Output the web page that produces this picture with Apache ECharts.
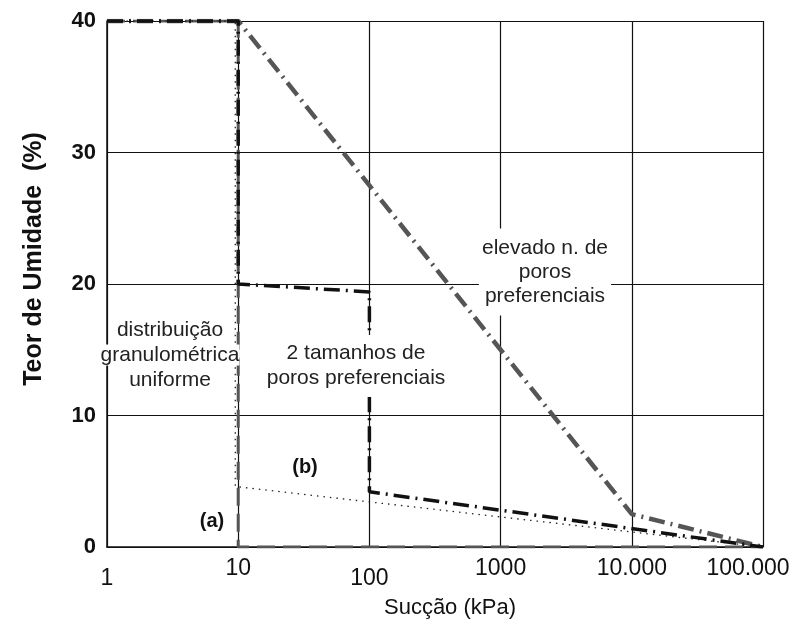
<!DOCTYPE html>
<html>
<head>
<meta charset="utf-8">
<script src="https://cdn.jsdelivr.net/npm/echarts@6/dist/echarts.min.js"></script>
<style>html,body{margin:0;padding:0;background:#fff}#c{width:804px;height:625px}</style>
</head>
<body>
<div id="c"></div>
<script>
// Data (suction kPa, moisture %)
const xTicks = [1, 10, 100, 1000, 10000, 100000];
const xTickLabels = ['1', '10', '100', '1000', '10.000', '100.000'];
const yTicks = [0, 10, 20, 30, 40];
const curveUniform = [[1, 40], [10, 40], [10, 0], [100000, 0]];
const curveTwoSizes = [[1, 40], [10, 40], [10, 20], [100, 19.4], [100, 4.2], [100000, 0]];
const curveElevated = [[1, 40], [10, 40], [10000, 2.5], [100000, 0]];
const curveDotted = [[1, 40], [9.5, 40], [9.5, 4.6], [100000, 0]];

const chart = echarts.init(document.getElementById('c'));
const F = 'Liberation Sans, Arial, sans-serif';
chart.setOption({
  animation: false,
  grid: { left: 107, right: 41, top: 21, bottom: 78, containLabel: false, outerBoundsMode: 'none' },
  xAxis: {
    type: 'log', logBase: 10, min: 1, max: 100000,
    name: 'Sucção (kPa)', nameLocation: 'middle', nameGap: 50,
    nameTextStyle: { fontFamily: F, fontSize: 22, color: '#111', padding: [0, 0, 0, 30] },
    axisLine: { show: true, lineStyle: { color: '#111', width: 1.5 } },
    axisTick: { show: false },
    minorTick: { show: false },
    splitLine: { show: true, lineStyle: { color: '#111', width: 1.2 } },
    axisLabel: {
      fontFamily: F, fontSize: 23, color: '#111', margin: 10, hideOverlap: false,
      formatter: function (v) {
        const i = xTicks.indexOf(Math.round(v));
        if (i < 0) return '';
        if (i === 0 || i === 2) return '{lo|' + xTickLabels[i] + '}';
        if (i === 5) return '{last|' + xTickLabels[i] + '}';
        return '{hi|' + xTickLabels[i] + '}';
      },
      rich: {
        lo: { fontFamily: F, fontSize: 23, color: '#111', padding: [10, 0, 0, 0] },
        hi: { fontFamily: F, fontSize: 23, color: '#111' },
        last: { fontFamily: F, fontSize: 23, color: '#111', padding: [0, 30, 0, 0] }
      }
    }
  },
  yAxis: {
    type: 'value', min: 0, max: 40, interval: 10,
    name: 'Teor de Umidade  (%)', nameLocation: 'middle', nameGap: 60, nameRotate: 90,
    nameTextStyle: { fontFamily: F, fontSize: 25, fontWeight: 'bold', color: '#111', padding: [0, 0, 0, 50] },
    axisLine: { show: true, lineStyle: { color: '#111', width: 1.5 } },
    axisTick: { show: false },
    splitLine: { show: true, lineStyle: { color: '#111', width: 1.2 } },
    axisLabel: {
      fontFamily: F, fontSize: 22, fontWeight: 'bold', color: '#111', margin: 11,
      formatter: function (v) { return yTicks.indexOf(v) >= 0 ? String(v) : ''; }
    }
  },
  series: [
    { type: 'line', data: curveUniform, symbol: 'none', z: 3,
      lineStyle: { color: '#555', width: 3, type: [18, 8] } },
    { type: 'line', data: curveDotted, symbol: 'none', z: 4,
      lineStyle: { color: '#222', width: 1.3, type: [1.5, 5] } },
    { type: 'line', data: curveElevated, symbol: 'none', z: 5,
      lineStyle: { color: '#555', width: 4.5, type: [16, 6, 2, 6] } },
    { type: 'line', data: curveTwoSizes, symbol: 'none', z: 6,
      lineStyle: { color: '#111', width: 3.5, type: [16, 6, 2, 6] } }
  ],
  graphic: [
    { type: 'text', z: 100, x: 170, y: 355,
      style: { text: '{a|distribuição}\n{b|granulométrica}\n{a|uniforme}', font: '21px ' + F, fill: '#222',
        align: 'center', verticalAlign: 'middle', lineHeight: 25,
        rich: { a: { fontSize: 21, fontFamily: F, fill: '#222', lineHeight: 25 },
                b: { fontSize: 21, fontFamily: F, fill: '#222', lineHeight: 25, backgroundColor: '#fff' } } } },
    { type: 'text', z: 100, x: 356, y: 366,
      style: { text: '2 tamanhos de\nporos preferenciais', font: '21px ' + F, fill: '#222',
        align: 'center', verticalAlign: 'middle', lineHeight: 25, backgroundColor: '#fff', padding: [5, 2, 7, 2] } },
    { type: 'text', z: 100, x: 545, y: 272,
      style: { text: 'elevado n. de\nporos\npreferenciais', font: '21px ' + F, fill: '#222',
        align: 'center', verticalAlign: 'middle', lineHeight: 24, backgroundColor: '#fff', padding: [13, 3, 2, 3] } },
    { type: 'text', z: 100, x: 212, y: 521,
      style: { text: '(a)', font: 'bold 20px ' + F, fill: '#111', align: 'center', verticalAlign: 'middle' } },
    { type: 'text', z: 100, x: 305, y: 467,
      style: { text: '(b)', font: 'bold 20px ' + F, fill: '#111', align: 'center', verticalAlign: 'middle' } }
  ]
});
</script>
</body>
</html>
